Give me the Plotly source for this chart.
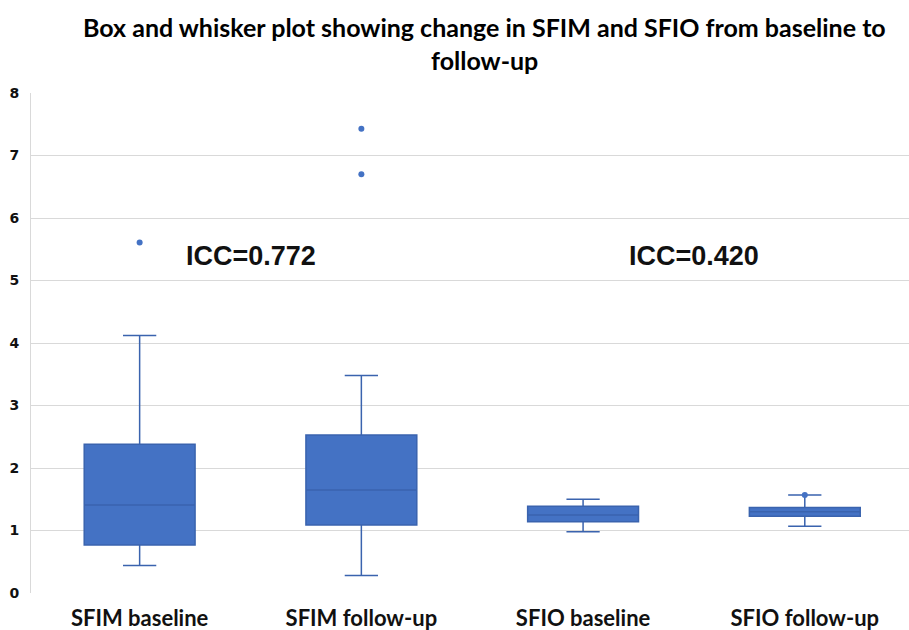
import plotly.graph_objects as go

# Groups and their five-number summaries
categories = ["SFIM baseline", "SFIM follow-up", "SFIO baseline", "SFIO follow-up"]
lower_whisker = [0.44, 0.28, 0.98, 1.07]
q1_values = [0.77, 1.09, 1.14, 1.23]
medians = [1.41, 1.65, 1.25, 1.30]
q3_values = [2.38, 2.53, 1.39, 1.37]
upper_whisker = [4.12, 3.48, 1.50, 1.57]

# Points drawn individually beyond / at the whisker ends
outlier_groups = ["SFIM baseline", "SFIM follow-up", "SFIM follow-up", "SFIO follow-up"]
outlier_values = [5.61, 7.43, 6.70, 1.57]

# Intraclass correlation labels
icc_labels = ["ICC=0.772", "ICC=0.420"]
icc_x = [0.5, 2.5]
icc_y = [5.40, 5.40]

title_lines = ["Box and whisker plot showing change in SFIM and SFIO from baseline to", "follow-up"]

y_ticks = [0, 1, 2, 3, 4, 5, 6, 7, 8]

BLUE = "#4472C4"
EDGE = "#3A63AE"
GRID = "#d9d9d9"

fig = go.Figure()

fig.add_trace(go.Box(
    x=categories,
    lowerfence=lower_whisker,
    q1=q1_values,
    median=medians,
    q3=q3_values,
    upperfence=upper_whisker,
    fillcolor=BLUE,
    line=dict(color=EDGE, width=1.5),
    width=0.5,
    whiskerwidth=0.3,
    boxpoints=False,
    showlegend=False,
    hoverinfo="skip",
))

fig.add_trace(go.Scatter(
    x=outlier_groups,
    y=outlier_values,
    mode="markers",
    marker=dict(color=BLUE, size=6, line=dict(width=0)),
    showlegend=False,
    hoverinfo="skip",
))

for text, xv, yv in zip(icc_labels, icc_x, icc_y):
    fig.add_annotation(
        x=xv, y=yv, xref="x", yref="y", text=f"<b>{text}</b>", showarrow=False,
        font=dict(family="Liberation Sans", size=27, color="#111111"),
        xanchor="center", yanchor="middle",
    )

# Two-line chart title, placed above the plot area
for line, yv in zip(title_lines, [1.132, 1.066]):
    fig.add_annotation(
        x=0.516, y=yv, xref="paper", yref="paper", text=f"<b>{line}</b>",
        showarrow=False, xanchor="center", yanchor="middle",
        font=dict(family="Lato", size=25, color="#000000"),
    )

fig.update_layout(
    width=909,
    height=630,
    paper_bgcolor="white",
    plot_bgcolor="white",
    margin=dict(l=31, r=0, t=93, b=37),
    xaxis=dict(
        type="category",
        categoryorder="array",
        categoryarray=categories,
        range=[-0.49, 3.47],
        showgrid=False,
        showline=False,
        zeroline=False,
        ticks="",
        tickfont=dict(family="Lato", size=22, color="#111111"),
        ticklabelstandoff=10,
        tickprefix="<b>",
        ticksuffix="</b>",
    ),
    yaxis=dict(
        range=[0, 8],
        tickvals=y_ticks,
        ticktext=[f"<b>{v}</b>" for v in y_ticks],
        showgrid=True,
        gridcolor=GRID,
        gridwidth=1,
        showline=True,
        linecolor=GRID,
        linewidth=1,
        zeroline=False,
        ticks="",
        tickfont=dict(family="DejaVu Sans", size=14, color="#111111"),
        ticklabelstandoff=8,
    ),
)

fig.write_html("out.html")
